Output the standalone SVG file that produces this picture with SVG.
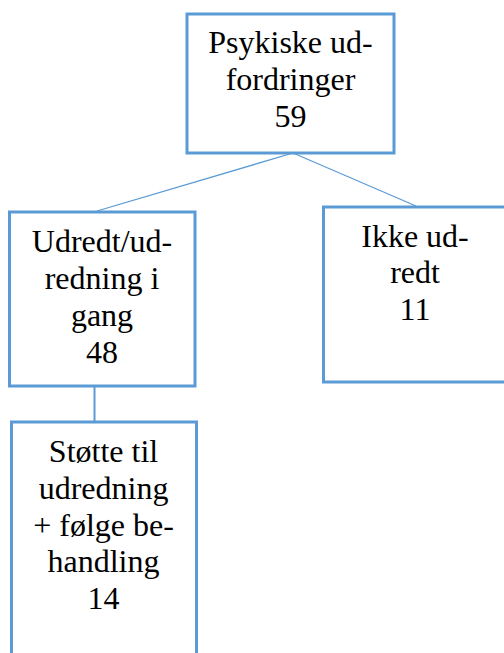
<svg xmlns="http://www.w3.org/2000/svg" width="504" height="653" viewBox="0 0 504 653">
<style>
.box{fill:#fff;stroke:#5B9BD5;stroke-width:3}
.t{font-size:32px;fill:#000;text-anchor:middle}
.c{stroke:#5B9BD5;fill:none}
</style>
<rect width="504" height="653" fill="#fff"/>
<g id="connectors">
<line class="c" x1="293" y1="153" x2="97" y2="211" stroke-width="1.3"/>
<line class="c" x1="293" y1="153" x2="416" y2="206" stroke-width="1.3"/>
<line class="c" x1="94.5" y1="386" x2="94.5" y2="422" stroke-width="2"/>
</g>
<g id="n1" font-family="Liberation Serif, Times New Roman, serif">
<rect class="box" x="187" y="14" width="207" height="139"/>
<text class="t" x="290.5" y="53">Psykiske ud-</text>
<text class="t" x="290.5" y="90">fordringer</text>
<text class="t" x="290.5" y="127">59</text>
</g>
<g id="n2" font-family="Liberation Serif, Times New Roman, serif">
<rect class="box" x="9.5" y="212" width="185.5" height="174"/>
<text class="t" x="102" y="252">Udredt/ud-</text>
<text class="t" x="102" y="289">redning i</text>
<text class="t" x="102" y="326">gang</text>
<text class="t" x="102" y="363">48</text>
</g>
<g id="n3" font-family="Liberation Serif, Times New Roman, serif">
<rect class="box" x="323.5" y="207" width="184" height="175"/>
<text class="t" x="415" y="247">Ikke ud-</text>
<text class="t" x="415" y="283">redt</text>
<text class="t" x="415" y="320">11</text>
</g>
<g id="n4" font-family="Liberation Serif, Times New Roman, serif">
<rect class="box" x="11.5" y="422" width="185" height="260"/>
<text class="t" x="103.5" y="462">Støtte til</text>
<text class="t" x="103.5" y="499">udredning</text>
<text class="t" x="103.5" y="536">+ følge be-</text>
<text class="t" x="103.5" y="572">handling</text>
<text class="t" x="103.5" y="609">14</text>
</g>
</svg>
